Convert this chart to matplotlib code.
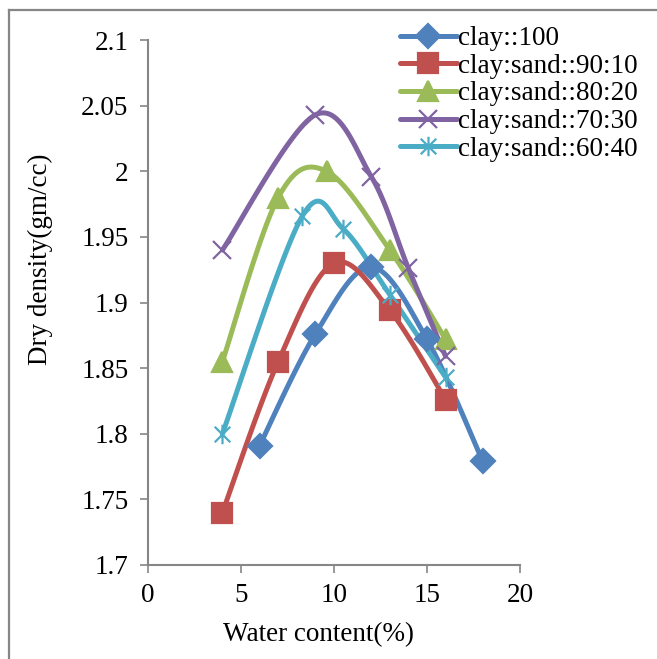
import numpy as np
import matplotlib.pyplot as plt
from matplotlib.path import Path
from matplotlib.lines import Line2D

plt.rcParams['font.family'] = ['Liberation Serif', 'DejaVu Serif']

# data
labels = ['clay::100', 'clay:sand::90:10', 'clay:sand::80:20',
          'clay:sand::70:30', 'clay:sand::60:40']
w_clay = [6, 9, 12, 15, 18]
d_clay = [1.791, 1.876, 1.927, 1.872, 1.779]
w_90 = [4, 7, 10, 13, 16]
d_90 = [1.740, 1.855, 1.930, 1.894, 1.826]
w_80 = [4, 7, 9.6, 13, 16]
d_80 = [1.855, 1.980, 2.000, 1.940, 1.872]
w_70 = [4, 9, 12, 14, 16]
d_70 = [1.940, 2.043, 1.996, 1.926, 1.859]
w_60 = [4, 8.3, 10.5, 13, 16]
d_60 = [1.800, 1.966, 1.956, 1.906, 1.843]

colors = ['#4F81BD', '#C0504D', '#9BBB59', '#8064A2', '#4BACC6']

# asterisk marker like Excel's (vertical bar + x)
star = Path([(0, -1), (0, 1), (-0.8, -0.8), (0.8, 0.8), (-0.8, 0.8), (0.8, -0.8)],
            [Path.MOVETO, Path.LINETO] * 3)

markers = ['D', 's', '^', 'x', star]
msizes = [12, 14, 14, 13, 14]

XMIN, XMAX, YMIN, YMAX = 0, 20, 1.7, 2.1
SX, SY = 372.0, 525.0  # axes size in px, used to smooth in screen space


def smooth(x, y, n=30):
    # Excel-style smoothed line: cubic bezier with catmull-rom control points
    px = (np.array(x, float) - XMIN) / (XMAX - XMIN) * SX
    py = (np.array(y, float) - YMIN) / (YMAX - YMIN) * SY
    P = np.column_stack([px, py])
    out = []
    for i in range(len(P) - 1):
        p0 = P[i - 1] if i > 0 else P[i]
        p1, p2 = P[i], P[i + 1]
        p3 = P[i + 2] if i + 2 < len(P) else P[i + 1]
        c1 = p1 + (p2 - p0) / 6
        c2 = p2 - (p3 - p1) / 6
        t = np.linspace(0, 1, n)[:, None]
        seg = ((1 - t) ** 3) * p1 + 3 * ((1 - t) ** 2) * t * c1 + 3 * (1 - t) * t ** 2 * c2 + t ** 3 * p2
        out.append(seg if i == 0 else seg[1:])
    out = np.vstack(out)
    return out[:, 0] / SX * (XMAX - XMIN) + XMIN, out[:, 1] / SY * (YMAX - YMIN) + YMIN


fig = plt.figure(figsize=(6.57, 6.59), dpi=100)
ax = fig.add_axes([148 / 657, 94 / 659, 372 / 657, 525 / 659])

series = [(w_clay, d_clay), (w_90, d_90), (w_80, d_80), (w_70, d_70), (w_60, d_60)]
handles = []
for (x, y), c, m, ms, lab in zip(series, colors, markers, msizes, labels):
    sx, sy = smooth(x, y)
    ax.plot(sx, sy, color=c, lw=3.6, solid_capstyle='round', zorder=2)
    ax.plot(x, y, ls='none', marker=m, ms=ms, color=c, mec=c, mew=1.6, zorder=3)
    handles.append(Line2D([], [], color=c, lw=3.6, marker=m, ms=ms, mec=c, mew=1.6,
                          solid_capstyle='round'))

ax.set_xlim(XMIN, XMAX)
ax.set_ylim(YMIN, YMAX)
ax.set_xticks([0, 5, 10, 15, 20])
ax.set_yticks([1.7, 1.75, 1.8, 1.85, 1.9, 1.95, 2.0, 2.05, 2.1])
ax.set_yticklabels(['1.7', '1.75', '1.8', '1.85', '1.9', '1.95', '2', '2.05', '2.1'])
for s in ['top', 'right']:
    ax.spines[s].set_visible(False)
for s in ['left', 'bottom']:
    ax.spines[s].set_color('#868686')
    ax.spines[s].set_linewidth(1.5)
ax.tick_params(colors='#868686', labelcolor='black', labelsize=19.5, length=6, width=1.2)
ax.tick_params(axis='x', pad=7)
ax.tick_params(axis='y', pad=8)
ax.set_xlabel('Water content(%)', fontsize=19.5)
ax.set_ylabel('Dry density(gm/cc)', fontsize=19.5)
ax.xaxis.set_label_coords(0.457, -0.108)
ax.yaxis.set_label_coords(-0.255, 0.583)

fig.legend(handles, labels, loc='upper left', bbox_to_anchor=(400 / 657, 1 - 26 / 659),
           frameon=False, fontsize=19.5, labelspacing=0.1, handlelength=2.1,
           handletextpad=0.05, borderpad=0, borderaxespad=0)

# outer frame lines (top and left)
fig.add_artist(Line2D([9 / 657, 1], [1 - 10 / 659, 1 - 10 / 659], color='#868686', lw=1.6,
                      transform=fig.transFigure))
fig.add_artist(Line2D([9 / 657, 9 / 657], [0, 1 - 10 / 659], color='#868686', lw=1.6,
                      transform=fig.transFigure))

fig.savefig('out.png', dpi=100)
